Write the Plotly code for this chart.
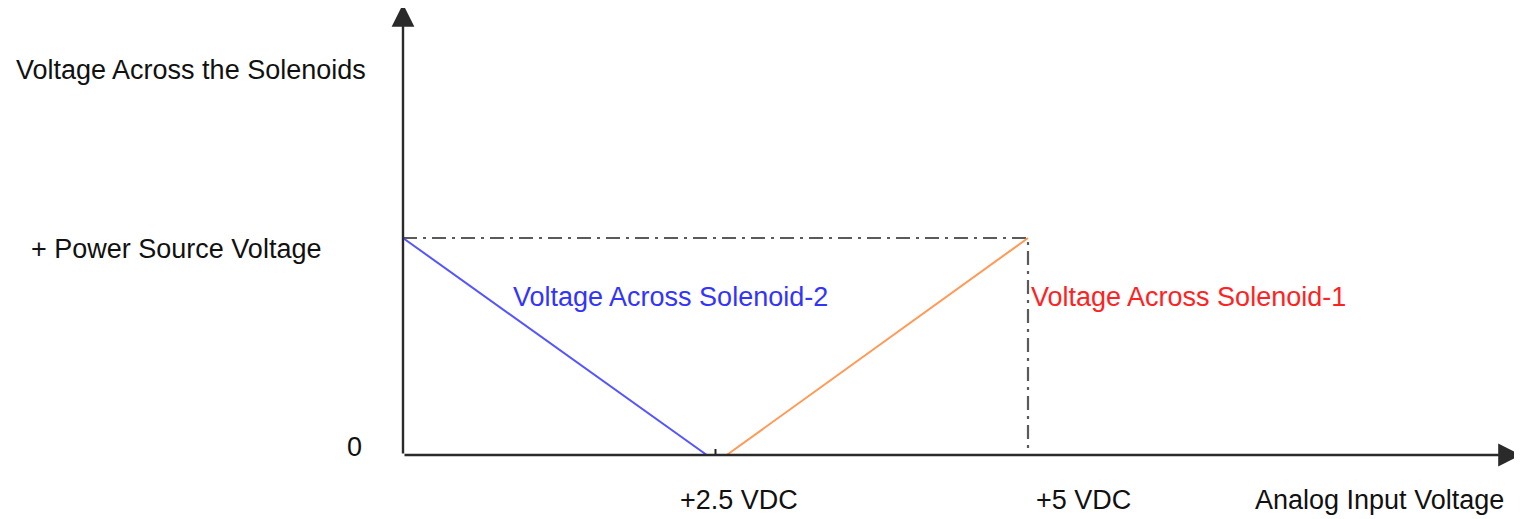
import plotly.graph_objects as go

# ---- data (analog input voltage in VDC, solenoid voltage as fraction of power source) ----
sol2_x = [0.0, 2.43]
sol2_y = [1.0, 0.0]
sol1_x = [2.59, 5.0]
sol1_y = [0.0, 1.0]
supply_x = [0.0, 5.0, 5.0]
supply_y = [1.0, 1.0, 0.0]
x_tick_vals = [2.5, 5.0]
x_tick_text = ["+2.5 VDC", "+5 VDC"]
y_tick_vals = [0.0, 1.0]
y_tick_text = ["0", "+ Power Source Voltage"]
series_labels = ["Voltage Across Solenoid-2", "Voltage Across Solenoid-1"]
x_title = "Analog Input Voltage"
y_title = "Voltage Across the Solenoids"

PAGE_OFF = 8            # default body margin of the written page
W, H = 1522 - PAGE_OFF, 519 - PAGE_OFF
X0PX, Y0PX = 403, 455   # page pixels of the origin
XS, YS = 125.0, 217.0   # px per unit


def dx(px):
    return (px - X0PX) / XS


def dy(py):
    return (Y0PX - py) / YS


FONT = "Liberation Sans, Arial, sans-serif"
FS = 27

fig = go.Figure()

# dash-dot guide (supply level and 5 V)
fig.add_trace(go.Scatter(x=supply_x, y=supply_y, mode="lines",
                         line=dict(color="#5a5a5a", width=2.2, dash="14px,6px,3px,6px"),
                         hoverinfo="skip", showlegend=False))
# solenoid-2 (blue)
fig.add_trace(go.Scatter(x=sol2_x, y=sol2_y, mode="lines",
                         line=dict(color="#5555ff", width=2),
                         hoverinfo="skip", showlegend=False))
# solenoid-1 (orange)
fig.add_trace(go.Scatter(x=sol1_x, y=sol1_y, mode="lines",
                         line=dict(color="#ff9955", width=2),
                         hoverinfo="skip", showlegend=False))

annotations = []
# axes with arrowheads
annotations.append(dict(x=dx(1521), y=0, ax=0, ay=0, xref="x", yref="y", axref="x", ayref="y",
                        showarrow=True, arrowhead=2, arrowsize=1.9, arrowwidth=2.4,
                        arrowcolor="#2a2a2a", text=""))
annotations.append(dict(x=0, y=dy(4), ax=0, ay=0, xref="x", yref="y", axref="x", ayref="y",
                        showarrow=True, arrowhead=2, arrowsize=1.9, arrowwidth=2.4,
                        arrowcolor="#2a2a2a", text=""))

# x tick labels
annotations.append(dict(x=x_tick_vals[0], y=dy(500), text=x_tick_text[0], xref="x", yref="y",
                        xanchor="left", yanchor="middle", xshift=-38, showarrow=False))
annotations.append(dict(x=x_tick_vals[1], y=dy(500), text=x_tick_text[1], xref="x", yref="y",
                        xanchor="left", yanchor="middle", xshift=6, showarrow=False))
annotations.append(dict(x=dx(1506), y=dy(500), text=x_title, xref="x", yref="y",
                        xanchor="right", yanchor="middle", showarrow=False))
# y tick labels
annotations.append(dict(x=dx(364), y=y_tick_vals[0], text=y_tick_text[0], xref="x", yref="y",
                        xanchor="right", yanchor="middle", yshift=8, showarrow=False))
annotations.append(dict(x=dx(323), y=y_tick_vals[1], text=y_tick_text[1], xref="x", yref="y",
                        xanchor="right", yanchor="middle", yshift=-11, showarrow=False))
annotations.append(dict(x=dx(14), y=dy(70), text=y_title, xref="x", yref="y",
                        xanchor="left", yanchor="middle", showarrow=False))
# series labels
annotations.append(dict(x=dx(511), y=dy(297), text=series_labels[0], xref="x", yref="y",
                        xanchor="left", yanchor="middle", showarrow=False,
                        font=dict(color="#3333ff", family=FONT, size=FS)))
annotations.append(dict(x=dx(1029), y=dy(297), text=series_labels[1], xref="x", yref="y",
                        xanchor="left", yanchor="middle", showarrow=False,
                        font=dict(color="#ff2222", family=FONT, size=FS)))

shapes = [
    # small tick at 2.5 V
    dict(type="line", xref="x", yref="y", x0=x_tick_vals[0], x1=x_tick_vals[0],
         y0=0, y1=6 / YS, line=dict(color="#222222", width=2)),
]

fig.update_layout(
    width=W, height=H,
    margin=dict(l=0, r=0, t=0, b=0),
    paper_bgcolor="white", plot_bgcolor="white",
    font=dict(family=FONT, size=FS, color="#111111"),
    xaxis=dict(range=[dx(PAGE_OFF), dx(1522)], visible=False, fixedrange=True),
    yaxis=dict(range=[dy(519), dy(PAGE_OFF)], visible=False, fixedrange=True),
    annotations=annotations,
    shapes=shapes,
    showlegend=False,
)

fig.write_html("out.html")
